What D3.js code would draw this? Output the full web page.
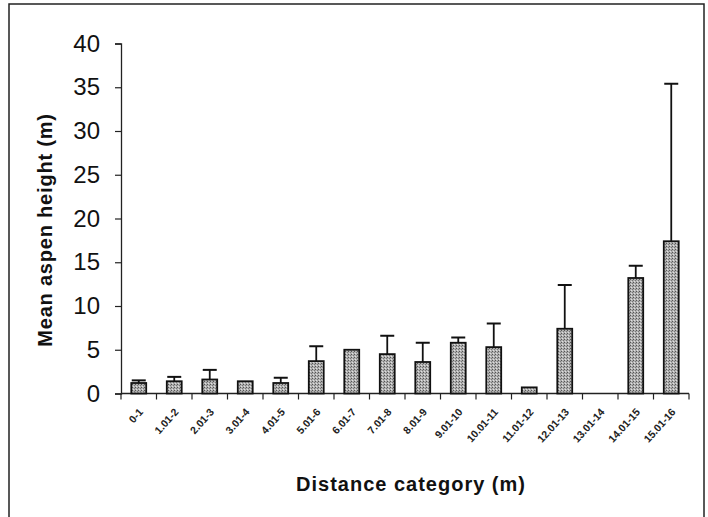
<!DOCTYPE html>
<html><head><meta charset="utf-8">
<script src="https://cdn.jsdelivr.net/npm/d3@7"></script>
<style>body{margin:0;background:#fff}</style>
</head><body>
<svg id="c" width="708" height="517"></svg>
<script>
const categories = ["0-1","1.01-2","2.01-3","3.01-4","4.01-5","5.01-6","6.01-7","7.01-8","8.01-9","9.01-10","10.01-11","11.01-12","12.01-13","13.01-14","14.01-15","15.01-16"];
const means = [1.2,1.4,1.6,1.4,1.2,3.7,5.0,4.5,3.6,5.8,5.3,0.7,7.4,0,13.2,17.4];
const errTops = [1.5,1.9,2.7,1.4,1.8,5.4,5.0,6.6,5.8,6.4,8.0,0.7,12.4,0,14.6,35.4];
const yTicks = [0,5,10,15,20,25,30,35,40];

const svg = d3.select("#c");
const mLeft = 121, mRight = 689, mTop = 43.5, mBottom = 393.5;
const FONT = "Liberation Sans, Arial, sans-serif";

// frame
svg.append("rect").attr("x",9).attr("y",4).attr("width",695).attr("height",520)
  .attr("fill","none").attr("stroke","#222").attr("stroke-width",1.5);

const defs = svg.append("defs");
const pat = defs.append("pattern").attr("id","stip").attr("patternUnits","userSpaceOnUse")
  .attr("width",3).attr("height",3);
pat.append("rect").attr("width",3).attr("height",3).attr("fill","#b0b0b0");
pat.append("rect").attr("x",0).attr("y",0).attr("width",1).attr("height",1).attr("fill","#555");
pat.append("rect").attr("x",2).attr("y",1).attr("width",1).attr("height",1).attr("fill","#777");
pat.append("rect").attr("x",1).attr("y",2).attr("width",1).attr("height",1).attr("fill","#e0e0e0");

const x = d3.scaleBand().domain(categories).range([mLeft,mRight]).paddingInner(0.58).paddingOuter(0.29);
const xb = d3.scaleBand().domain(categories).range([mLeft,mRight]);
const y = d3.scaleLinear().domain([0,40]).range([mBottom,mTop]);

// y axis
const ya = svg.append("g").attr("transform",`translate(${mLeft},0)`)
  .call(d3.axisLeft(y).tickValues(yTicks).tickSize(6).tickPadding(15));
ya.select(".domain").attr("stroke","#222").attr("stroke-width",1.3);
ya.selectAll(".tick line").attr("stroke","#222").attr("stroke-width",1.2);
ya.selectAll("text").attr("font-family",FONT)
  .attr("font-size",24).attr("fill","#111");

// x axis with ticks at boundaries
const xa = svg.append("g").attr("transform",`translate(0,${mBottom})`);
xa.append("line").attr("x1",mLeft).attr("x2",mRight).attr("stroke","#222").attr("stroke-width",1.3);
xa.selectAll(".bt").data(categories.concat(["_end"])).join("line")
  .attr("x1",(d,i)=>mLeft + i*xb.step()).attr("x2",(d,i)=>mLeft + i*xb.step())
  .attr("y1",0).attr("y2",6).attr("stroke","#222").attr("stroke-width",1.2);
xa.selectAll(".lbl").data(categories).join("text")
  .attr("transform",d=>`translate(${xb(d)+xb.bandwidth()/2+5},${19}) rotate(-48)`)
  .attr("text-anchor","end").attr("font-family",FONT)
  .attr("font-size",10.5).attr("font-weight","bold").attr("fill","#222").text(d=>d);

// error bars
const eb = svg.append("g");
categories.forEach((c,i)=>{
  if (errTops[i] > means[i] + 0.05) {
    const cx = x(c)+x.bandwidth()/2;
    eb.append("line").attr("x1",cx).attr("x2",cx).attr("y1",y(means[i])).attr("y2",y(errTops[i]))
      .attr("stroke","#111").attr("stroke-width",1.8);
    eb.append("line").attr("x1",cx-7).attr("x2",cx+7).attr("y1",y(errTops[i])).attr("y2",y(errTops[i]))
      .attr("stroke","#111").attr("stroke-width",2);
  }
});

// bars
svg.append("g").selectAll("rect").data(categories.map((c,i)=>({c,v:means[i]})).filter(d=>d.v>0)).join("rect")
  .attr("x",d=>x(d.c)).attr("width",x.bandwidth())
  .attr("y",d=>y(d.v)).attr("height",d=>mBottom-y(d.v))
  .attr("fill","url(#stip)").attr("stroke","#111").attr("stroke-width",1.8);

// axis titles
svg.append("text").attr("transform","translate(52,230) rotate(-90)").attr("text-anchor","middle")
  .attr("font-family",FONT).attr("font-size",20).attr("font-weight","bold").attr("letter-spacing",0.8)
  .attr("fill","#111").text("Mean aspen height (m)");
svg.append("text").attr("x",411).attr("y",491).attr("text-anchor","middle")
  .attr("font-family",FONT).attr("font-size",20).attr("font-weight","bold").attr("letter-spacing",1)
  .attr("fill","#111").text("Distance category (m)");
</script>
</body></html>
